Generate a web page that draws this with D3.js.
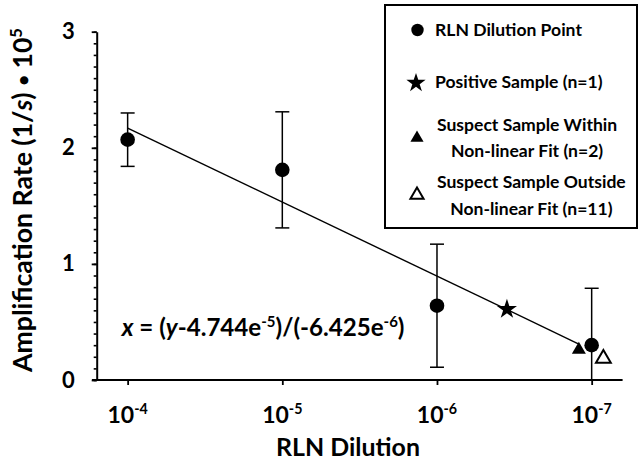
<!DOCTYPE html>
<html><head><meta charset="utf-8">
<script src="https://cdn.jsdelivr.net/npm/d3@7"></script>
<style>
body{margin:0;background:#fff}
text{font-family:Lato,"Open Sans",sans-serif;font-weight:700;fill:#000}
</style>
</head><body>
<svg id="chart" width="641" height="461"></svg>
<script>
// ---- data ----
const dilutions = [1e-4, 1e-5, 1e-6, 1e-7];
const rateMean = [2.07, 1.81, 0.64, 0.30];
const rateErr = [0.23, 0.50, 0.53, 0.49];
const positiveDilution = [3.53e-7];
const positiveRate = [0.61];
const withinDilution = [1.21e-7];
const withinRate = [0.26];
const outsideDilution = [8.4e-8];
const outsideRate = [0.185];
const fitDilution = [1e-4, 1.21e-7];
const fitRate = [2.17, 0.31];
const yMajorTicks = [0, 1, 2, 3];
const yMinorTicks = d3.range(0, 31).map(i => i / 10);
const xTickExponents = ["-4", "-5", "-6", "-7"];
const legendLabels = [
  ["RLN Dilution Point"],
  ["Positive Sample (n=1)"],
  ["Suspect Sample Within", "Non-linear Fit (n=2)"],
  ["Suspect Sample Outside", "Non-linear Fit (n=11)"]
];
const xTitle = "RLN Dilution";
const yTitleParts = [{t:"Amplification Rate (1/"},{t:"s",i:true},{t:") "},{t:"\u2022",dot:true},{t:" 10"},{t:"5",sup:true}];
const eqParts = [{t:"x",i:true},{t:" = ("},{t:"y",i:true},{t:"-4.744e"},{t:"-5",sup:true},{t:")/(-6.425e"},{t:"-6",sup:true},{t:")"}];

// ---- layout ----
const svg = d3.select("#chart");
const x = d3.scaleLog().domain([Math.pow(10,-3.8), Math.pow(10,-7.2)]).range([96.7, 622.6]);
const y = d3.scaleLinear().domain([0, 3]).range([380, 31.7]).clamp(true);

function rich(g, parts, size, attrs) {
  const t = g.append("text");
  Object.entries(attrs).forEach(([k,v]) => t.attr(k, v));
  let shift = 0;
  parts.forEach(p => {
    const s = t.append("tspan").text(p.t);
    if (p.i) s.style("font-style", "italic");
    let target = 0;
    if (p.sup) { s.style("font-size", (size*0.62)+"px"); target = -size*0.38; }
    else if (p.dot) { s.style("font-size", (size*0.7)+"px"); target = -size*0.08; }
    if (target !== shift) { s.attr("dy", target - shift); shift = target; }
  });
  t.style("font-size", size+"px");
  return t;
}
function fitRich(g, parts, target, attrs) {
  const probe = rich(g, parts, 100, attrs);
  const w = probe.node().getComputedTextLength();
  probe.remove();
  const size = 100 * target / w;
  return {el: rich(g, parts, size, attrs), size};
}

// fit line
svg.append("path")
  .datum(fitDilution.map((d,i)=>[d, fitRate[i]]))
  .attr("d", d3.line().x(d=>x(d[0])).y(d=>y(d[1])))
  .attr("stroke","#000").attr("stroke-width",1.4).attr("fill","none");

// error bars
const eb = svg.append("g").attr("stroke","#000").attr("stroke-width",1.5);
dilutions.forEach((d,i) => {
  const cx = x(d), top = y(rateMean[i]+rateErr[i]), bot = y(rateMean[i]-rateErr[i]);
  eb.append("line").attr("x1",cx).attr("x2",cx).attr("y1",top).attr("y2",bot);
  eb.append("line").attr("x1",cx-7).attr("x2",cx+7).attr("y1",top).attr("y2",top);
  if (rateMean[i]-rateErr[i] > 0)
    eb.append("line").attr("x1",cx-7).attr("x2",cx+7).attr("y1",bot).attr("y2",bot);
});

// points
svg.append("g").selectAll("circle").data(dilutions).join("circle")
  .attr("cx", d=>x(d)).attr("cy", (d,i)=>y(rateMean[i])).attr("r", 7.3).attr("fill","#000");
const starSym = d3.symbol().type(d3.symbolStar).size(125);
svg.append("g").selectAll("path").data(positiveDilution).join("path")
  .attr("d", starSym).attr("transform",(d,i)=>`translate(${x(d)},${y(positiveRate[i])})`).attr("fill","#000");
const triSym = d3.symbol().type(d3.symbolTriangle).size(85);
svg.append("g").selectAll("path").data(withinDilution).join("path")
  .attr("d", triSym).attr("transform",(d,i)=>`translate(${x(d)},${y(withinRate[i])})`).attr("fill","#000");
const openTriSym = d3.symbol().type(d3.symbolTriangle).size(95);
svg.append("g").selectAll("path").data(outsideDilution).join("path")
  .attr("d", openTriSym).attr("transform",(d,i)=>`translate(${x(d)},${y(outsideRate[i])})`)
  .attr("fill","#fff").attr("stroke","#000").attr("stroke-width",2);

// y axis
const yMinor = svg.append("g").attr("transform","translate(96.7,0)")
  .call(d3.axisLeft(y).tickValues(yMinorTicks).tickSize(3).tickFormat(""));
yMinor.select(".domain").remove();
yMinor.selectAll("line").attr("stroke-width",1.6);
const yAx = svg.append("g").attr("transform","translate(96.7,0)")
  .call(d3.axisLeft(y).tickValues(yMajorTicks).tickSize(5).tickSizeOuter(0).tickPadding(17).tickFormat(d3.format("d")));
yAx.select(".domain").attr("stroke-width",2);
yAx.selectAll("line").attr("stroke-width",1.8);
yAx.selectAll("text").style("font-family","Lato").style("font-weight","700").style("font-size","22px");

// x axis
const xAx = svg.append("g").attr("transform","translate(0,380)")
  .call(d3.axisBottom(x).tickValues(dilutions).tickSize(5).tickSizeOuter(0).tickFormat(""));
xAx.select(".domain").attr("stroke-width",2).attr("d","M92,0H622.6");
xAx.selectAll("line").attr("stroke-width",1.8);
const xl = svg.append("g");
dilutions.forEach((d,i) => {
  rich(xl, [{t:"10"},{t:xTickExponents[i],sup:true}], 23, {x:x(d), y:423, "text-anchor":"middle"});
});

// titles
fitRich(svg, [{t:xTitle}], 144, {x:348, y:456, "text-anchor":"middle"});
fitRich(svg, yTitleParts, 344, {transform:"translate(32,200) rotate(-90)", "text-anchor":"middle"});
fitRich(svg, eqParts, 283, {x:121.7, y:336});

// legend
svg.append("rect").attr("x",385).attr("y",5).attr("width",252).attr("height",223)
  .attr("fill","#fff").attr("stroke","#000").attr("stroke-width",2);
const lg = svg.append("g");
const probe = fitRich(lg, [{t:legendLabels[0][0]}], 147, {x:435, y:36});
const ls = probe.size;
rich(lg, [{t:legendLabels[1][0]}], ls, {x:435, y:88});
const multi = [[130.5,156.5],[187.5,214.5]];
[2,3].forEach((k,j) => {
  const lines = legendLabels[k];
  const ws = lines.map(l => { const t = rich(lg,[{t:l}],ls,{x:0,y:0}); const w=t.node().getComputedTextLength(); t.remove(); return w; });
  const cx = 437 + d3.max(ws)/2;
  lines.forEach((l,m) => rich(lg, [{t:l}], ls, {x:cx, y:multi[j][m], "text-anchor":"middle"}));
});
lg.append("circle").attr("cx",417.5).attr("cy",30).attr("r",6.2).attr("fill","#000");
lg.append("path").attr("d", d3.symbol().type(d3.symbolStar).size(115)()).attr("transform","translate(416,83)").attr("fill","#000");
lg.append("path").attr("d", d3.symbol().type(d3.symbolTriangle).size(75)()).attr("transform","translate(417,138)").attr("fill","#000");
lg.append("path").attr("d", d3.symbol().type(d3.symbolTriangle).size(75)()).attr("transform","translate(417,195)")
  .attr("fill","#fff").attr("stroke","#000").attr("stroke-width",2);
</script>
</body></html>
